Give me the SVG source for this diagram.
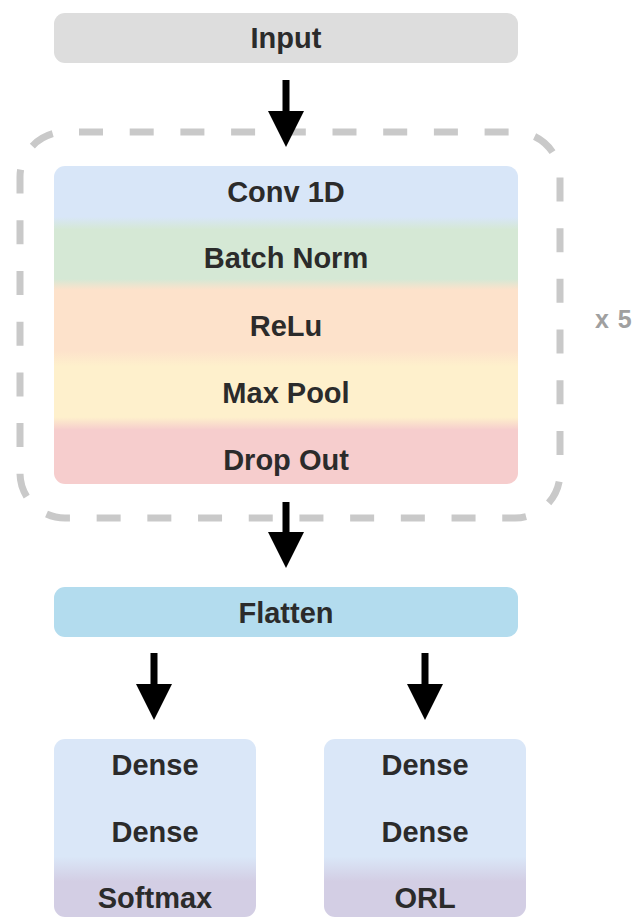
<svg xmlns="http://www.w3.org/2000/svg" width="638" height="919" viewBox="0 0 638 919">
<style>
  .lbl { font-family: "Liberation Sans", Arial, sans-serif; font-weight: bold; font-size: 29px; fill: #2b2b2b; text-anchor: middle; }
  .rep { font-family: "Liberation Sans", Arial, sans-serif; font-weight: bold; font-size: 25px; fill: #a0a0a0; letter-spacing: 1px; }
  .arrow { stroke: #000; stroke-width: 7; fill: none; marker-end: url(#head); }
</style>
<defs>
  <marker id="head" viewBox="0 0 36 36" markerWidth="36" markerHeight="36" refX="6" refY="18" orient="auto" markerUnits="userSpaceOnUse">
    <path d="M0,0 L36,18 L0,36 Z" fill="#000"/>
  </marker>
  <linearGradient id="gBlock" x1="0" y1="0" x2="0" y2="1">
    <stop offset="0" stop-color="#d8e6f8"/>
    <stop offset="0.16" stop-color="#d8e6f8"/>
    <stop offset="0.2" stop-color="#d5e8d5"/>
    <stop offset="0.355" stop-color="#d5e8d5"/>
    <stop offset="0.39" stop-color="#fde2cb"/>
    <stop offset="0.58" stop-color="#fde2cb"/>
    <stop offset="0.63" stop-color="#fef0cc"/>
    <stop offset="0.79" stop-color="#fef0cc"/>
    <stop offset="0.83" stop-color="#f6cdcd"/>
    <stop offset="1" stop-color="#f6cdcd"/>
  </linearGradient>
  <linearGradient id="gHead" x1="0" y1="0" x2="0" y2="1">
    <stop offset="0" stop-color="#dae7f8"/>
    <stop offset="0.66" stop-color="#dae7f8"/>
    <stop offset="0.8" stop-color="#d3cee4"/>
    <stop offset="1" stop-color="#d3cee4"/>
  </linearGradient>
</defs>

<g id="repeat-group">
  <rect x="20" y="132" width="540" height="386" rx="45" ry="45" fill="none" stroke="#c9c9c9" stroke-width="7" stroke-dasharray="24 26.7" stroke-dashoffset="36.7"/>
  <text class="rep" x="595" y="328">x 5</text>
</g>

<g id="input">
  <rect x="54" y="13" width="464" height="50" rx="11" fill="#dddddd"/>
  <text class="lbl" x="286" y="48">Input</text>
</g>

<g id="conv-block">
  <rect x="54" y="166" width="464" height="318" rx="11" fill="url(#gBlock)"/>
  <text class="lbl" x="286" y="202">Conv 1D</text>
  <text class="lbl" x="286" y="268">Batch Norm</text>
  <text class="lbl" x="286" y="336">ReLu</text>
  <text class="lbl" x="286" y="403">Max Pool</text>
  <text class="lbl" x="286" y="470">Drop Out</text>
</g>

<g id="flatten">
  <rect x="54" y="587" width="464" height="50" rx="11" fill="#b3dcee"/>
  <text class="lbl" x="286" y="623">Flatten</text>
</g>

<g id="head-softmax">
  <rect x="54" y="739" width="202" height="178" rx="11" fill="url(#gHead)"/>
  <text class="lbl" x="155" y="775">Dense</text>
  <text class="lbl" x="155" y="842">Dense</text>
  <text class="lbl" x="155" y="908">Softmax</text>
</g>

<g id="head-orl">
  <rect x="324" y="739" width="202" height="178" rx="11" fill="url(#gHead)"/>
  <text class="lbl" x="425" y="775">Dense</text>
  <text class="lbl" x="425" y="842">Dense</text>
  <text class="lbl" x="425" y="908">ORL</text>
</g>

<g id="connectors">
  <line class="arrow" x1="286" y1="80" x2="286" y2="117"/>
  <line class="arrow" x1="286" y1="502" x2="286" y2="538"/>
  <line class="arrow" x1="154" y1="653" x2="154" y2="690"/>
  <line class="arrow" x1="425" y1="653" x2="425" y2="690"/>
</g>
</svg>
